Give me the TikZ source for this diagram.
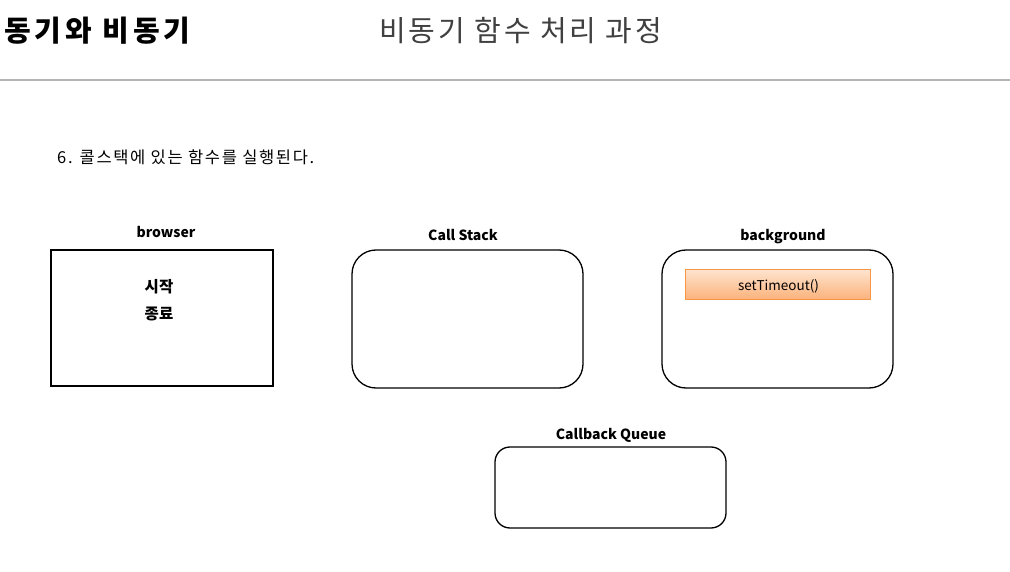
\documentclass[tikz,border=0pt]{standalone}
\usepackage{fontspec}
\setmainfont{Noto Sans CJK KR}
\newfontfamily\kr{Noto Sans CJK KR}
\definecolor{titlegray}{HTML}{404040}
\definecolor{rulegray}{HTML}{B4B4B4}
\definecolor{orborder}{HTML}{F79646}
\definecolor{ortop}{HTML}{FEE4CF}
\definecolor{orbot}{HTML}{FBB27A}
\begin{document}
\begin{tikzpicture}[x=1pt,y=-1pt,
  lbl/.style={font=\kr\fontsize{14}{16}\selectfont\bfseries, inner sep=0pt, anchor=base},
  krlbl/.style={font=\kr\fontsize{15.5}{17}\selectfont\bfseries, inner sep=0pt},
  panel/.style={draw=black, line width=1.3pt, rounded corners=24pt},
  sqpanel/.style={draw=black, line width=1.3pt},
  taskbox/.style={draw=orborder, line width=0.8pt, top color=ortop, bottom color=orbot,
     minimum width=185pt, minimum height=30pt, inner sep=0pt},
  tasktext/.style={font=\kr\fontsize{13.5}{15}\selectfont, inner sep=0pt}]
\useasboundingbox (0,0) rectangle (1010,572);
\fill[white] (0,0) rectangle (1010,572);
% header
\node[anchor=west, inner sep=0pt, font=\kr\fontsize{29}{32}\selectfont\bfseries\addfontfeatures{LetterSpace=13.5}] (title) at (4,31) {동기와 비동기};
\node[anchor=west, inner sep=0pt, text=titlegray, font=\kr\fontsize{29}{32}\selectfont\addfontfeatures{LetterSpace=10}] (subtitle) at (379,31) {비동기 함수 처리 과정};
\coordinate (rl) at (0,80);
\coordinate (rr) at (1010,80);
\draw[rulegray, line width=2.5pt] (rl) -- (rr);
\node[anchor=west, inner sep=0pt, font=\kr\fontsize{16.5}{18}\selectfont\addfontfeatures{LetterSpace=10}] (step6) at (57,157) {6. 콜스택에 있는 함수를 실행된다.};
% browser
\node[lbl] (browserlbl) at (166,238) {browser};
\draw[sqpanel] (51,250) rectangle (273,386);
\node[krlbl] (start) at (159,286.5) {시작};
\node[krlbl] (end) at (159,313.5) {종료};
% call stack
\node[lbl] (cslbl) at (463,241) {Call Stack};
\draw[panel] (352,250) rectangle (583,388);
% background
\node[lbl] (bglbl) at (783,241) {background};
\draw[panel] (662,250) rectangle (893,388);
\node[taskbox] (st) at (777.5,284.5) {};
\node[tasktext] (sttext) at (778.5,286.5) {setTimeout()};
% callback queue
\node[lbl] (cqlbl) at (611,439) {Callback Queue};
\draw[panel, rounded corners=15pt] (495,447) rectangle (726,528);
\end{tikzpicture}
\end{document}
